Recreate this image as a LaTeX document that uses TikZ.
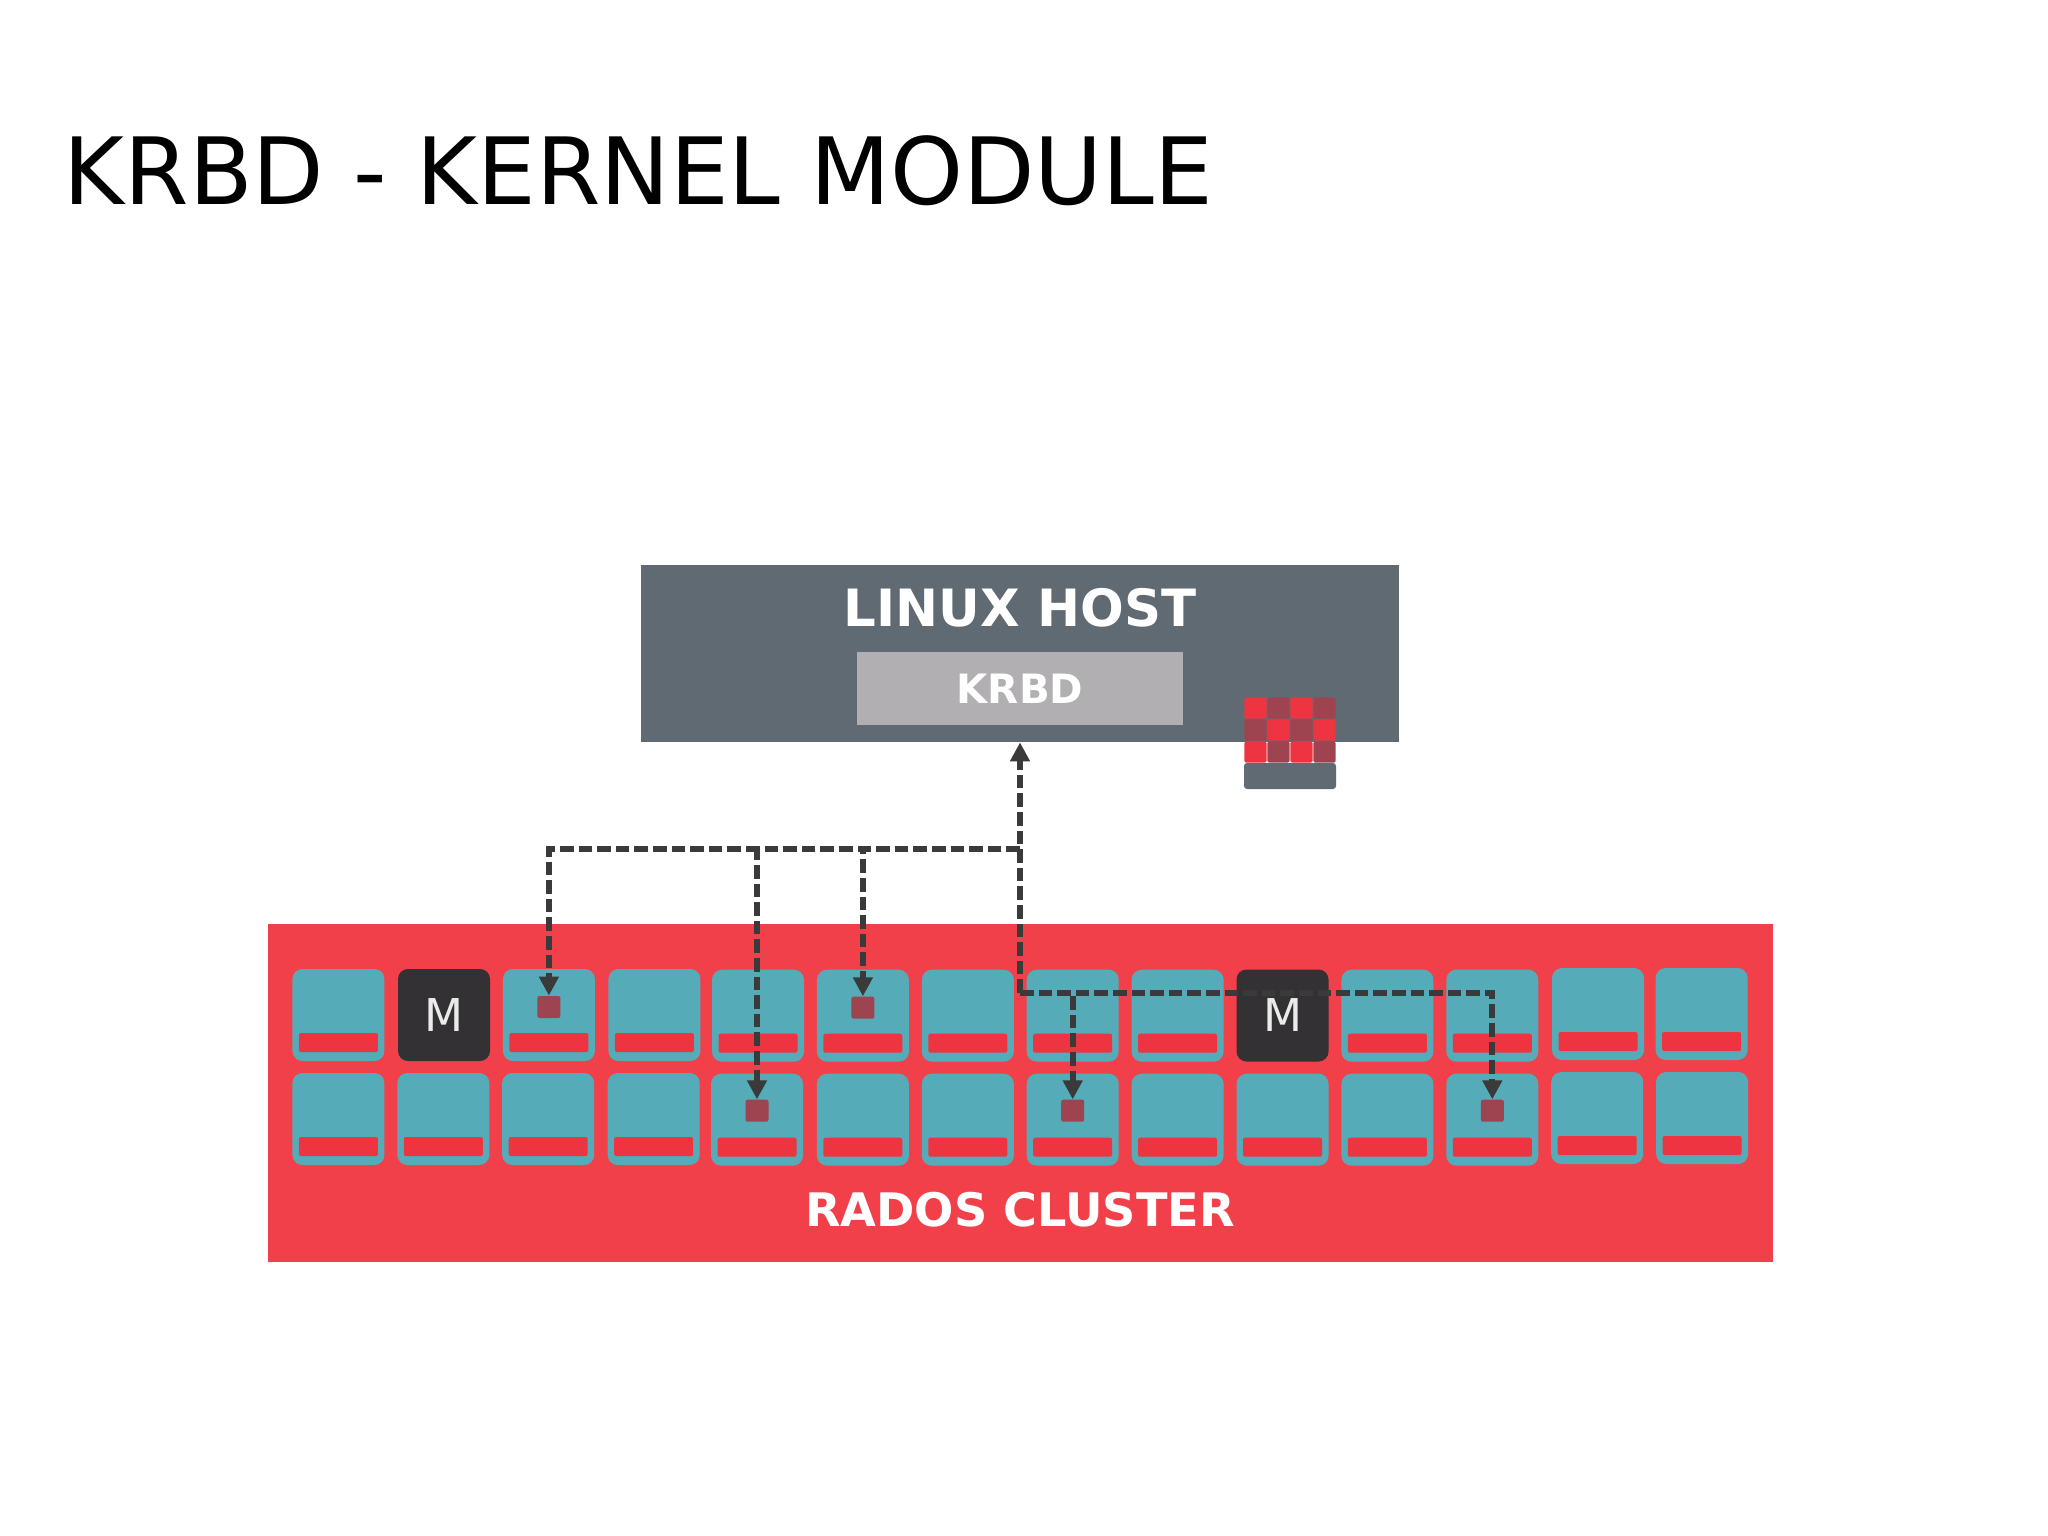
\documentclass[tikz,border=0pt]{standalone}
\usepackage{fontspec}
\setmainfont{DejaVu Sans}
\usetikzlibrary{arrows.meta, positioning, calc}

\definecolor{hostgray}{HTML}{5F6A72}
\definecolor{krbdgray}{HTML}{B1AFB1}
\definecolor{clusterred}{HTML}{F1404A}
\definecolor{diskteal}{HTML}{55ACB8}
\definecolor{barred}{HTML}{EE3440}
\definecolor{objred}{HTML}{9E4450}
\definecolor{monblack}{HTML}{333133}
\definecolor{linkgray}{HTML}{3A3A3A}

\tikzset{
    disk/.style={fill=diskteal, rounded corners=5pt, minimum width=46pt, minimum height=46pt, inner sep=0pt},
    mon/.style={fill=monblack, text=black!8, rounded corners=5pt, minimum width=46pt, minimum height=46pt, inner sep=0pt, font=\fontsize{22.6}{26}\selectfont},
    redbar/.style={fill=barred, rounded corners=1pt, minimum width=39.5pt, minimum height=9.5pt, inner sep=0pt},
    objbox/.style={fill=objred, rounded corners=1pt, minimum width=11.5pt, minimum height=11pt, inner sep=0pt},
    cell0/.style={fill=barred, rounded corners=0.8pt, minimum width=11.2pt, minimum height=10.6pt, inner sep=0pt},
    cell1/.style={fill=objred, rounded corners=0.8pt, minimum width=11.2pt, minimum height=10.6pt, inner sep=0pt},
    link/.style={draw=linkgray, line width=2.9pt, dash pattern=on 6.8pt off 2.5pt},
    tip/.style={-{Triangle[length=9.5pt, width=9.5pt]}}
}

\begin{document}
\begin{tikzpicture}[x=0.5pt, y=-0.5pt]
    \useasboundingbox (0,0) rectangle (2048,1535);

    % Title
    \node[anchor=base west, inner sep=0pt, font=\fontsize{46.4}{50}\selectfont] (title) at (63.5,205) {KRBD - KERNEL MODULE};

    % Linux host
    \node[fill=hostgray, minimum width=379pt, minimum height=88.5pt, inner sep=0pt] (host) at (1020,653.5) {};
    \node[text=white, inner sep=0pt, font=\bfseries\fontsize{25.7}{30}\selectfont] (hostlabel) at (1020,608) {LINUX HOST};
    \node[fill=krbdgray, text=white, minimum width=163pt, minimum height=36.5pt, inner sep=0pt, font=\bfseries\fontsize{20.2}{24}\selectfont] (krbd) at (1020,688.5) {\raisebox{-0.6pt}{KRBD}};

    % Image stack
    \foreach \r in {0,1,2} {
        \foreach \c in {0,...,3} {
            \pgfmathtruncatemacro{\k}{mod(\r+\c,2)}
            \node[cell\k] (cell\r-\c) at ({1255.5+\c*23}, {708+\r*22}) {};
        }
    }
    \node[fill=hostgray, rounded corners=1.5pt, minimum width=46pt, minimum height=13pt, inner sep=0pt] (stackbase) at (1290,776) {};

    % Rados cluster
    \node[fill=clusterred, minimum width=752.5pt, minimum height=169pt, inner sep=0pt] (cluster) at (1020,1093) {};
    \node[text=white, inner sep=0pt, font=\bfseries\fontsize{23.1}{26}\selectfont] (clusterlabel) at (1020,1210) {RADOS CLUSTER};

    % Upper row
    \foreach \c/\dx/\dy in {1/0/0,3/0.7/0,4/1.3/0,5/0/0.7,6/0/0.7,7/0/0.7,8/0/0.7,9/0/0.7,11/0/0.7,12/0/0.7,13/0.8/-1,14/-0.5/-1} {
        \node[disk] (d1-\c) at ({338.4+(\c-1)*104.9+\dx}, {1015+\dy}) {};
        \node[redbar, above=4.5pt of d1-\c.south] (b1-\c) {};
    }
    \node[mon] (m1) at (444,1015) {\raisebox{-0.8pt}{M}};
    \node[mon] (m2) at (1282.5,1015.5) {\raisebox{-1pt}{M}};

    % Lower row
    \foreach \c/\dx/\dy in {1/0/0,2/0/0,3/0/0,4/0.6/0,5/-1/0.7,6/0/0.7,7/0/0.7,8/0/0.7,9/0/0.7,10/0/0.7,11/0/0.7,12/0/0.7,13/0/-1,14/0/-1} {
        \node[disk] (d2-\c) at ({338.4+(\c-1)*104.9+\dx}, {1119+\dy}) {};
        \node[redbar, above=4.5pt of d2-\c.south] (b2-\c) {};
    }

    % Objects
    \foreach \r/\c/\dy in {1/3/-8,1/6/-8,2/5/-9,2/8/-9,2/12/-9} {
        \node[objbox] (o\r-\c) at ($(d\r-\c.center)+(0,\dy)$) {};
    }

    % Connections
    \coordinate (jct) at (1020,849);
    \coordinate (jct2) at (1020,993);
    \draw[link, tip] (jct2) -- (host.south);
    \foreach \r/\c in {1/3,2/5,1/6} {
        \draw[link, tip] (jct) -| (o\r-\c.north);
    }
    \foreach \r/\c in {2/8,2/12} {
        \draw[link, tip] (jct2) -| (o\r-\c.north);
    }
\end{tikzpicture}
\end{document}
